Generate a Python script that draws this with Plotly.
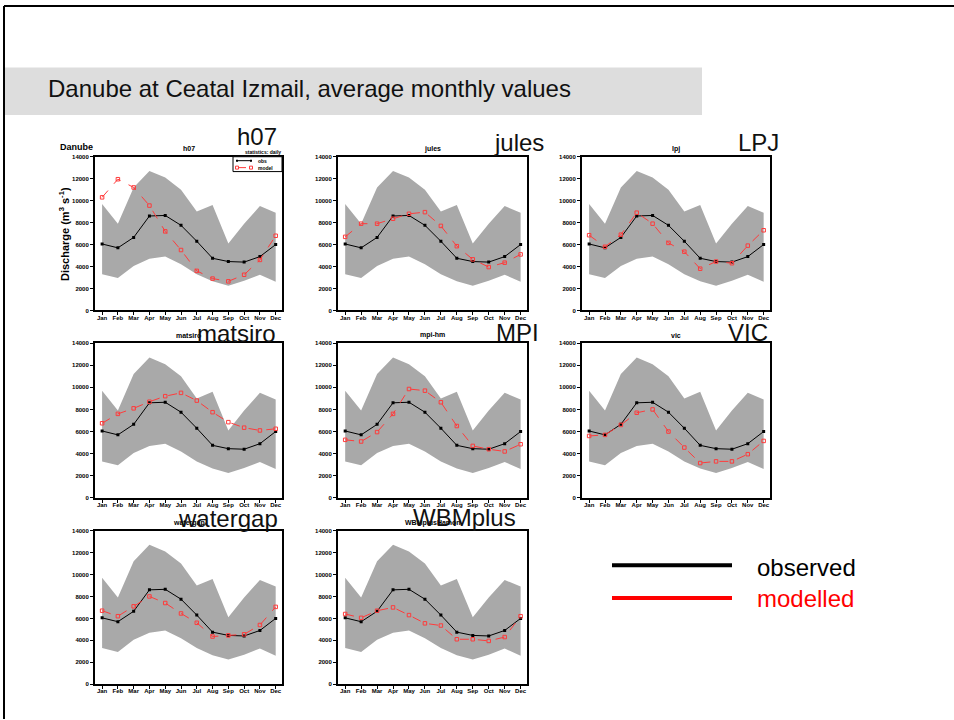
import plotly.graph_objects as go

# Monthly discharge, Danube at Ceatal Izmail (m3/s)
MONTHS = ["Jan", "Feb", "Mar", "Apr", "May", "Jun", "Jul", "Aug", "Sep", "Oct", "Nov", "Dec"]

band_upper = [9700, 7900, 11200, 12700, 12100, 11000, 9000, 9600, 6100, 7900, 9500, 8900]
band_lower = [3300, 2950, 4050, 4700, 4900, 4200, 3300, 2650, 2250, 2700, 3250, 2600]

observed = [6050, 5700, 6650, 8600, 8650, 7750, 6300, 4750, 4450, 4400, 4900, 6000]

model_names = ["h07", "jules", "LPJ", "matsiro", "MPI", "VIC", "watergap", "WBMplus"]
model_titles = ["h07", "jules", "lpj", "matsiro", "mpi-hm", "vic", "watergap", "WBMplusHamon"]

h07 = [10300, 11950, 11200, 9550, 7200, 5500, 3600, 2900, 2650, 3250, 4600, 6800]
jules = [6700, 7900, 7900, 8350, 8800, 8950, 7700, 5850, 4650, 3950, 4350, 5100]
lpj = [6850, 5800, 6900, 8900, 7900, 6150, 5350, 3800, 4450, 4300, 5900, 7300]
matsiro = [6750, 7600, 8100, 8700, 9200, 9500, 8800, 7750, 6850, 6350, 6100, 6250]
mpi_hm = [5250, 5100, 5950, 7600, 9850, 9700, 8650, 6500, 4700, 4400, 4200, 4850]
vic = [5600, 5700, 6600, 7700, 8000, 6000, 4550, 3150, 3300, 3300, 3950, 5150]
watergap = [6700, 6200, 7100, 8000, 7400, 6450, 5600, 4350, 4450, 4550, 5400, 7050]
wbmplus = [6400, 6050, 6700, 7000, 6300, 5550, 5350, 4100, 4100, 3950, 4300, 6200]

modelled = [h07, jules, lpj, matsiro, mpi_hm, vic, watergap, wbmplus]

Y_TICKS = [0, 2000, 4000, 6000, 8000, 10000, 12000, 14000]

W, H = 954, 720
OBS_COLOR = "black"
MOD_COLOR = "#ff3b3b"


def px(x):
    return x / W


def py(y):
    return 1 - y / H


def note(text, x, y, size, color="black", xanchor="center", bold=False, angle=0):
    fig.add_annotation(x=px(x), y=py(y), xref="paper", yref="paper", text=text,
                       showarrow=False, xanchor=xanchor, yanchor="middle", textangle=angle,
                       font=dict(family="Liberation Sans", size=size, color=color,
                                 weight="bold" if bold else "normal"))


# panel boxes in pixels: (left, right), (top, bottom)
cols = [(95, 282), (338, 527), (582, 770)]
rows = [(155, 310), (343, 499), (532, 687)]
cells = [(0, 0), (0, 1), (0, 2), (1, 0), (1, 1), (1, 2), (2, 0), (2, 1)]

fig = go.Figure()
mx = list(range(len(MONTHS)))
tick_font = dict(family="Liberation Sans", size=6, color="black", weight="bold")

for i, (r, c) in enumerate(cells):
    k = i + 1
    xa = "x" if k == 1 else f"x{k}"
    ya = "y" if k == 1 else f"y{k}"
    # envelope of observed monthly values
    fig.add_trace(go.Scatter(
        x=mx + mx[::-1], y=band_upper + band_lower[::-1],
        fill="toself", fillcolor="#a9a9a9", line=dict(width=0),
        mode="lines", xaxis=xa, yaxis=ya, hoverinfo="skip"))
    fig.add_trace(go.Scatter(
        x=mx, y=observed, mode="lines+markers",
        line=dict(color=OBS_COLOR, width=1),
        marker=dict(symbol="square", size=3, color=OBS_COLOR),
        xaxis=xa, yaxis=ya))
    fig.add_trace(go.Scatter(
        x=mx, y=modelled[i], mode="lines+markers",
        line=dict(color=MOD_COLOR, width=1, dash="dash"),
        marker=dict(symbol="square-open", size=3.5, color=MOD_COLOR, line=dict(width=1)),
        xaxis=xa, yaxis=ya))

    (l, rr), (t, b) = cols[c], rows[r]
    axis_common = dict(showline=True, linewidth=2, linecolor="black", mirror=True,
                       ticks="outside", ticklen=3, tickwidth=1, tickcolor="black",
                       showgrid=False, zeroline=False, tickfont=tick_font, fixedrange=True)
    fig.layout[("xaxis" if k == 1 else f"xaxis{k}")] = dict(
        domain=[px(l), px(rr)], anchor=ya, range=[-0.45, 11.4],
        tickvals=mx, ticktext=MONTHS, ticklabelstandoff=-3, **axis_common)
    fig.layout[("yaxis" if k == 1 else f"yaxis{k}")] = dict(
        domain=[py(b), py(t)], anchor=xa, range=[0, 14000],
        tickvals=Y_TICKS, ticktext=[str(v) for v in Y_TICKS], **axis_common)

    # small panel title
    note(model_titles[i], (l + rr) / 2, t - 8, 7, bold=True)

annotations_big = [
    ("h07", 279, 135), ("jules", 546, 141), ("LPJ", 781, 141),
    ("matsiro", 278, 333), ("MPI", 541, 332), ("VIC", 770, 332),
    ("watergap", 280, 520), ("WBMplus", 518, 519),
]
for name, x, y in annotations_big:
    note(name, x, y, 24, color="#111111", xanchor="right")

# panel-1 extras
note("Danube", 58, 145, 9, xanchor="left", bold=True)
note("Discharge (m<sup>3</sup> s<sup>-1</sup>)", 64, 233, 11, bold=True, angle=-90)
note("statistics: daily", 283, 150, 5, xanchor="right", bold=True)

shapes = []
# page frame
shapes.append(dict(type="line", xref="paper", yref="paper", x0=px(4), x1=px(4), y0=py(722), y1=py(3),
                   line=dict(color="black", width=2)))
shapes.append(dict(type="line", xref="paper", yref="paper", x0=px(4), x1=px(956), y0=py(3), y1=py(3),
                   line=dict(color="black", width=2)))
# title bar
shapes.append(dict(type="rect", xref="paper", yref="paper", x0=px(5), x1=px(702), y0=py(113), y1=py(65),
                   fillcolor="#dddddd", line=dict(width=0), layer="below"))
# mini legend in first panel
shapes.append(dict(type="rect", xref="paper", yref="paper", x0=px(233), x1=px(282), y0=py(170), y1=py(155),
                   fillcolor="white", line=dict(color="black", width=1)))
shapes.append(dict(type="line", xref="paper", yref="paper", x0=px(237), x1=px(251), y0=py(159), y1=py(159),
                   line=dict(color=OBS_COLOR, width=1)))
shapes.append(dict(type="line", xref="paper", yref="paper", x0=px(237), x1=px(251), y0=py(166), y1=py(166),
                   line=dict(color=MOD_COLOR, width=1, dash="dash")))
for xx in (237, 251):
    shapes.append(dict(type="rect", xref="paper", yref="paper", x0=px(xx - 1), x1=px(xx + 1),
                       y0=py(160), y1=py(158), fillcolor=OBS_COLOR, line=dict(width=0)))
    shapes.append(dict(type="rect", xref="paper", yref="paper", x0=px(xx - 1.5), x1=px(xx + 1.5),
                       y0=py(167.5), y1=py(164.5), fillcolor="white", line=dict(color=MOD_COLOR, width=1)))
# big legend
shapes.append(dict(type="line", xref="paper", yref="paper", x0=px(612), x1=px(732), y0=py(567), y1=py(567),
                   line=dict(color="black", width=4)))
shapes.append(dict(type="line", xref="paper", yref="paper", x0=px(612), x1=px(732), y0=py(600), y1=py(600),
                   line=dict(color="#ff0000", width=4)))
fig.update_layout(shapes=shapes)

note("obs", 256, 159, 5, xanchor="left", bold=True)
note("model", 256, 166, 5, xanchor="left", bold=True)

note("observed", 755, 569, 24, xanchor="left")
note("modelled", 755, 601, 24, color="#ff0000", xanchor="left")

note("Danube at Ceatal Izmail, average monthly values", 46, 86, 24, color="#111111", xanchor="left")

fig.update_layout(width=W, height=H, margin=dict(l=0, r=0, t=0, b=0),
                  paper_bgcolor="white", plot_bgcolor="white", showlegend=False)

fig.write_html("out.html")
